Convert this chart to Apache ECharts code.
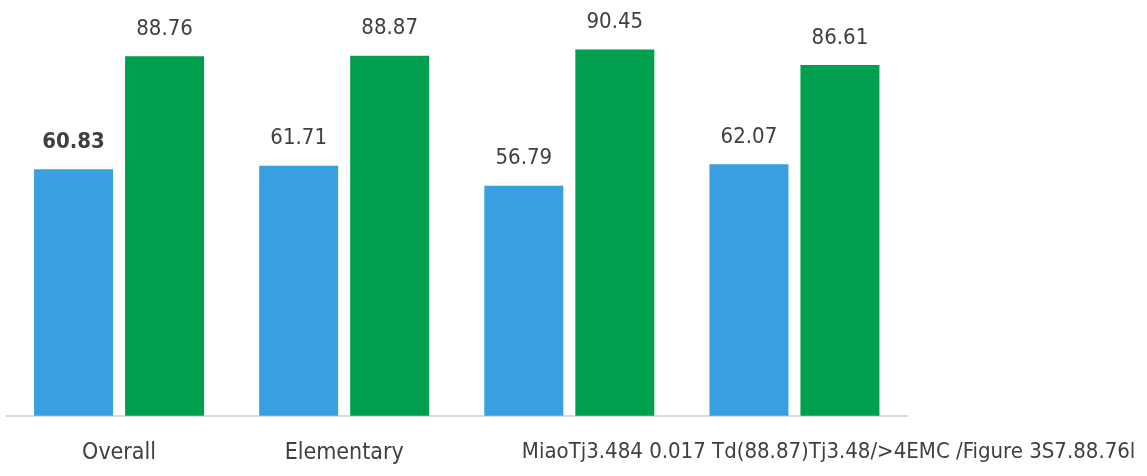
<!DOCTYPE html>
<html>
<head>
<meta charset="utf-8">
<script src="https://cdn.jsdelivr.net/npm/echarts@6/dist/echarts.min.js"></script>
<style>html,body{margin:0;padding:0;background:#fff}#c{width:1147px;height:476px}</style>
</head>
<body>
<div id="c"></div>
<script>
var categories = ['Overall', 'Elementary', 'MiaoTj3.484 0.017 Td(88.87)Tj3.48/>4EMC /Figure 3S7.88.76l', ''];
var seriesNames = ['Series 1', 'Series 2'];
var blueValues = [60.83, 61.71, 56.79, 62.07];
var greenValues = [88.76, 88.87, 90.45, 86.61];

var FONT = "'Liberation Sans Narrow', 'Arial Narrow', 'DejaVu Sans Condensed', sans-serif";
var CAT_SIZE = 23;
var LONG_SIZE = 22;
var VAL_SIZE = 22;
var LONG_SHIFT = 95;

var cv = document.createElement('canvas').getContext('2d');
cv.font = 'normal ' + LONG_SIZE + 'px ' + FONT;
var longW = cv.measureText(categories[2]).width;

var chart = echarts.init(document.getElementById('c'), null, {renderer: 'canvas'});
chart.setOption({
  animation: false,
  grid: {left: 6.5, right: 240, top: 10.7, bottom: 60.3, containLabel: false, outerBoundsMode: 'none'},
  xAxis: {
    type: 'category',
    data: categories,
    axisLine: {lineStyle: {color: '#d9d9d9', width: 2}},
    axisTick: {show: false},
    axisLabel: {
      interval: 0,
      margin: 26,
      color: '#404040',
      fontFamily: FONT,
      fontSize: CAT_SIZE,
      hideOverlap: false,
      formatter: function (v, i) {
        if (i === 2) return '{s|}{t|' + v + '}';
        return v;
      },
      rich: {
        s: {width: Math.max(0, longW - LONG_SHIFT), fontSize: LONG_SIZE},
        t: {color: '#404040', fontFamily: FONT, fontSize: LONG_SIZE}
      }
    }
  },
  yAxis: {type: 'value', min: 0, max: 100, show: false, splitLine: {show: false}},
  series: [
    {
      name: seriesNames[0], type: 'bar', barWidth: 79, barGap: '15.2%',
      itemStyle: {color: '#399fe0'},
      label: {show: true, position: 'top', distance: 16, color: '#404040', fontFamily: FONT, fontSize: VAL_SIZE},
      data: blueValues.map(function (v, i) { return i === 0 ? {value: v, label: {fontWeight: 'bold'}} : v; })
    },
    {
      name: seriesNames[1], type: 'bar', barWidth: 79, barGap: '15.2%',
      itemStyle: {color: '#009f4e'},
      label: {show: true, position: 'top', distance: 16, color: '#404040', fontFamily: FONT, fontSize: VAL_SIZE},
      data: greenValues
    }
  ]
});
</script>
</body>
</html>
